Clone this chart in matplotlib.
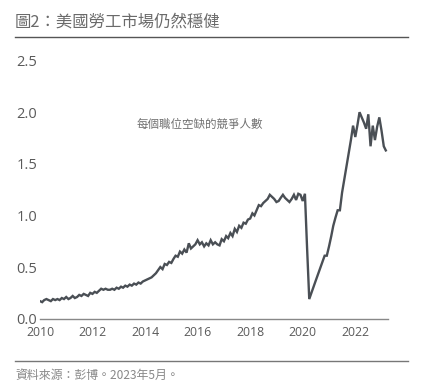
import numpy as np
import matplotlib
matplotlib.use("Agg")
import matplotlib.pyplot as plt
import pandas as pd

plt.rcParams['font.family'] = ['Noto Sans CJK TC', 'DejaVu Sans']

title = "圖2：美國勞工市場仍然穩健"
source = "資料來源：彭博。2023年5月。"
series_label = "每個職位空缺的競爭人數"

v2010 = [0.17, 0.16, 0.18, 0.19, 0.18, 0.17, 0.19, 0.18, 0.19, 0.18, 0.20, 0.19]
v2011 = [0.21, 0.19, 0.20, 0.22, 0.20, 0.21, 0.23, 0.22, 0.24, 0.23, 0.22, 0.25]
v2012 = [0.24, 0.26, 0.25, 0.27, 0.29, 0.28, 0.29, 0.28, 0.28, 0.29, 0.28, 0.30]
v2013 = [0.29, 0.31, 0.30, 0.32, 0.31, 0.33, 0.32, 0.34, 0.33, 0.35, 0.34, 0.36]
v2014 = [0.37, 0.38, 0.39, 0.40, 0.42, 0.44, 0.47, 0.50, 0.48, 0.53, 0.52, 0.55]
v2015 = [0.54, 0.58, 0.61, 0.60, 0.65, 0.63, 0.67, 0.64, 0.73, 0.68, 0.70, 0.72]
v2016 = [0.76, 0.72, 0.74, 0.70, 0.73, 0.71, 0.76, 0.72, 0.74, 0.72, 0.71, 0.77]
v2017 = [0.75, 0.80, 0.78, 0.83, 0.80, 0.87, 0.84, 0.90, 0.88, 0.93, 0.92, 0.96]
v2018 = [0.97, 1.02, 1.00, 1.05, 1.10, 1.09, 1.12, 1.14, 1.16, 1.20, 1.18, 1.16]
v2019 = [1.13, 1.14, 1.17, 1.20, 1.17, 1.15, 1.13, 1.16, 1.20, 1.15, 1.21, 1.20]
v2020 = [1.14, 1.21, 0.70, 0.19, 0.25, 0.31, 0.37, 0.43, 0.49, 0.55, 0.61, 0.61]
v2021 = [0.70, 0.80, 0.90, 0.98, 1.05, 1.05, 1.22, 1.35, 1.48, 1.60, 1.73, 1.87]
v2022 = [1.76, 1.88, 2.00, 1.95, 1.90, 1.84, 1.98, 1.67, 1.87, 1.73, 1.86, 1.95]
v2023 = [1.82, 1.67, 1.63]

values = (v2010 + v2011 + v2012 + v2013 + v2014 + v2015 + v2016 + v2017
          + v2018 + v2019 + v2020 + v2021 + v2022 + v2023)
dates = pd.date_range("2010-01-01", periods=len(values), freq="MS")

y_ticks = [0.0, 0.5, 1.0, 1.5, 2.0, 2.5]
x_tick_years = [2010, 2012, 2014, 2016, 2018, 2020, 2022]

fig = plt.figure(figsize=(4.25, 3.91), dpi=100)
ax = fig.add_axes([0.094, 0.185, 0.819, 0.66])

ax.plot(dates, values, color="#4a4f55", lw=1.7, solid_joinstyle="miter")

ax.set_xlim(pd.Timestamp("2010-01-01"), pd.Timestamp("2023-04-01"))
ax.set_ylim(0, 2.5)
ax.set_yticks(y_ticks)
ax.set_yticklabels([f"{t:.1f}" for t in y_ticks], fontsize=10.5, color="#5a5a5a",
                   family=['Open Sans', 'DejaVu Sans'])
ax.set_xticks([pd.Timestamp(f"{y}-01-01") for y in x_tick_years])
ax.set_xticklabels([str(y) for y in x_tick_years], fontsize=8.8, color="#5a5a5a",
                   family=['Open Sans', 'DejaVu Sans'])
ax.tick_params(axis='both', length=0)
ax.tick_params(axis='y', pad=2)
ax.tick_params(axis='x', pad=5)
for s in ['top', 'right', 'left']:
    ax.spines[s].set_visible(False)
ax.spines['bottom'].set_color("#888888")
ax.spines['bottom'].set_linewidth(1.0)

ax.text(pd.Timestamp("2013-09-01"), 1.88, series_label, fontsize=8.3, color="#707070",
        va='center', ha='left')

# title and separators
fig.text(15/425, 1 - 22/391, title, fontsize=11.8, color="#6a6a6a", va='center', ha='left')
fig.add_artist(plt.Line2D([15/425, 408/425], [1 - 37/391, 1 - 37/391],
                          color="#555555", lw=1.0, transform=fig.transFigure))
fig.add_artist(plt.Line2D([15/425, 408/425], [1 - 361/391, 1 - 361/391],
                          color="#777777", lw=1.0, transform=fig.transFigure))
fig.text(15/425, 1 - 375/391, source, fontsize=8.6, color="#888888", va='center', ha='left')

fig.savefig("out.png", dpi=100, facecolor="white")
